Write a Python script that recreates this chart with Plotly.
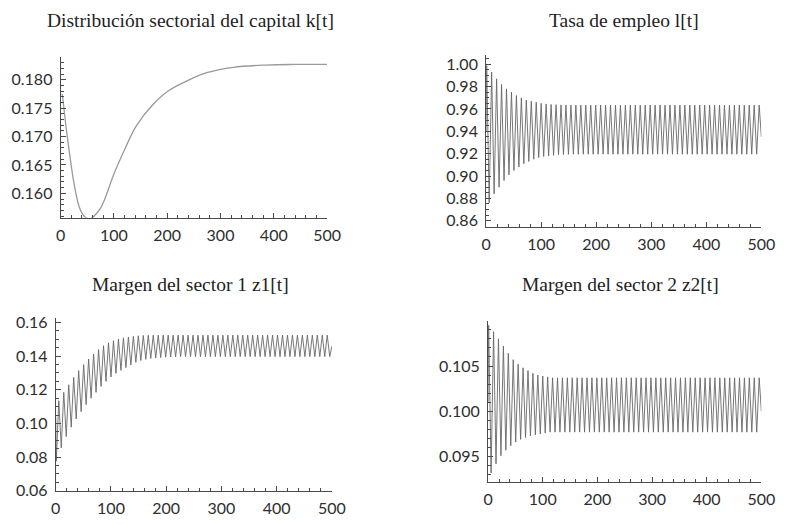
import plotly.graph_objects as go

# ---------------------------------------------------------------------------
# Series data
# ---------------------------------------------------------------------------

# k[t]: smooth path of the sectoral capital share
k_t = [3, 5, 10, 15, 20, 25, 30, 35, 42, 50, 58, 65, 75, 82, 100, 121, 142,
       173, 203, 239, 276, 324, 385, 440, 500]
k_val = [0.1775, 0.1760, 0.1718, 0.1682, 0.1648, 0.1618, 0.1594, 0.1576,
         0.1562, 0.1556, 0.1556, 0.1562, 0.1574, 0.1588, 0.1634, 0.1679,
         0.1719, 0.1756, 0.1781, 0.1799, 0.1813, 0.1822, 0.1826, 0.1827,
         0.1827]

# turning points of the oscillating series (two alternating phases)
t_a = [1, 10, 19, 28, 37, 46, 55, 64, 73, 82,
       91, 100, 109, 118, 127, 136, 145, 154, 163, 172,
       181, 190, 199, 208, 217, 226, 235, 244, 253, 262,
       271, 280, 289, 298, 307, 316, 325, 334, 343, 352,
       361, 370, 379, 388, 397, 406, 415, 424, 433, 442,
       451, 460, 469, 478, 487, 496]
t_b = [5.5, 14.5, 23.5, 32.5, 41.5, 50.5, 59.5, 68.5, 77.5, 86.5,
       95.5, 104.5, 113.5, 122.5, 131.5, 140.5, 149.5, 158.5, 167.5, 176.5,
       185.5, 194.5, 203.5, 212.5, 221.5, 230.5, 239.5, 248.5, 257.5, 266.5,
       275.5, 284.5, 293.5, 302.5, 311.5, 320.5, 329.5, 338.5, 347.5, 356.5,
       365.5, 374.5, 383.5, 392.5, 401.5, 410.5, 419.5, 428.5, 437.5, 446.5,
       455.5, 464.5, 473.5, 482.5, 491.5]

# l[t]: employment rate (highs at t_a, lows at t_b)
l_start, l_end = 0.940, 0.935
l_high = [0.999, 0.993, 0.987, 0.982, 0.978, 0.975, 0.972, 0.970, 0.968, 0.967,
          0.966, 0.965, 0.9645, 0.964, 0.9638, 0.9636, 0.9635, 0.9635, 0.9635, 0.9635,
          0.9635, 0.9635, 0.9635, 0.9635, 0.9635, 0.9635, 0.9635, 0.9635, 0.9635, 0.9635,
          0.9635, 0.9635, 0.9635, 0.9635, 0.9635, 0.9635, 0.9635, 0.9635, 0.9635, 0.9635,
          0.9635, 0.9635, 0.9635, 0.9635, 0.9635, 0.9635, 0.9635, 0.9635, 0.9635, 0.9635,
          0.9635, 0.9635, 0.9635, 0.9635, 0.9635, 0.9635]
l_low = [0.876, 0.884, 0.890, 0.896, 0.901, 0.905, 0.908, 0.911, 0.913, 0.915,
         0.9165, 0.9175, 0.918, 0.9185, 0.919, 0.9192, 0.9194, 0.9195, 0.9195, 0.9195,
         0.9195, 0.9195, 0.9195, 0.9195, 0.9195, 0.9195, 0.9195, 0.9195, 0.9195, 0.9195,
         0.9195, 0.9195, 0.9195, 0.9195, 0.9195, 0.9195, 0.9195, 0.9195, 0.9195, 0.9195,
         0.9195, 0.9195, 0.9195, 0.9195, 0.9195, 0.9195, 0.9195, 0.9195, 0.9195, 0.9195,
         0.9195, 0.9195, 0.9195, 0.9195, 0.9195]

# z1[t]: margin of sector 1 (lows at t_a, highs at t_b)
z1_start, z1_end = 0.104, 0.146
z1_low = [0.0776, 0.0855, 0.0922, 0.0978, 0.1027, 0.1070, 0.1112, 0.1150, 0.1185, 0.1220,
          0.1250, 0.1276, 0.1298, 0.1316, 0.1332, 0.1348, 0.1363, 0.1374, 0.1381, 0.1386,
          0.1389, 0.1392, 0.1394, 0.1395, 0.1396, 0.1397, 0.1397, 0.1397, 0.1397, 0.1397,
          0.1397, 0.1397, 0.1397, 0.1397, 0.1397, 0.1397, 0.1397, 0.1397, 0.1397, 0.1397,
          0.1397, 0.1397, 0.1397, 0.1397, 0.1397, 0.1397, 0.1397, 0.1397, 0.1397, 0.1397,
          0.1397, 0.1397, 0.1397, 0.1397, 0.1397, 0.1397]
z1_high = [0.1135, 0.1185, 0.1230, 0.1274, 0.1314, 0.1350, 0.1383, 0.1413, 0.1439, 0.1462,
           0.1479, 0.1492, 0.1502, 0.1509, 0.1514, 0.1518, 0.1521, 0.1523, 0.1524, 0.1525,
           0.1525, 0.1525, 0.1525, 0.1525, 0.1525, 0.1525, 0.1525, 0.1525, 0.1525, 0.1525,
           0.1525, 0.1525, 0.1525, 0.1525, 0.1525, 0.1525, 0.1525, 0.1525, 0.1525, 0.1525,
           0.1525, 0.1525, 0.1525, 0.1525, 0.1525, 0.1525, 0.1525, 0.1525, 0.1525, 0.1525,
           0.1525, 0.1525, 0.1525, 0.1525, 0.1525]

# z2[t]: margin of sector 2 (highs at t_a, lows at t_b)
z2_start, z2_end = 0.1010, 0.1000
z2_high = [0.1095, 0.1088, 0.1080, 0.1072, 0.1064, 0.1057, 0.1052, 0.1048, 0.1045, 0.1042,
           0.1040, 0.1039, 0.1038, 0.1037, 0.1037, 0.1037, 0.1037, 0.1037, 0.1037, 0.1037,
           0.1037, 0.1037, 0.1037, 0.1037, 0.1037, 0.1037, 0.1037, 0.1037, 0.1037, 0.1037,
           0.1037, 0.1037, 0.1037, 0.1037, 0.1037, 0.1037, 0.1037, 0.1037, 0.1037, 0.1037,
           0.1037, 0.1037, 0.1037, 0.1037, 0.1037, 0.1037, 0.1037, 0.1037, 0.1037, 0.1037,
           0.1037, 0.1037, 0.1037, 0.1037, 0.1037, 0.1037]
z2_low = [0.0932, 0.0942, 0.0951, 0.0957, 0.0962, 0.0966, 0.0969, 0.0971, 0.0973, 0.0974,
          0.0975, 0.0976, 0.0977, 0.0977, 0.0977, 0.0977, 0.0977, 0.0977, 0.0977, 0.0977,
          0.0977, 0.0977, 0.0977, 0.0977, 0.0977, 0.0977, 0.0977, 0.0977, 0.0977, 0.0977,
          0.0977, 0.0977, 0.0977, 0.0977, 0.0977, 0.0977, 0.0977, 0.0977, 0.0977, 0.0977,
          0.0977, 0.0977, 0.0977, 0.0977, 0.0977, 0.0977, 0.0977, 0.0977, 0.0977, 0.0977,
          0.0977, 0.0977, 0.0977, 0.0977, 0.0977]

titles = ["Distribución sectorial del capital k[t]", "Tasa de empleo l[t]",
          "Margen del sector 1 z1[t]", "Margen del sector 2 z2[t]"]
x_ticks = [0, 100, 200, 300, 400, 500]


def zigzag(t0, v0, ta, va, tb, vb, t1, v1):
    """Merge the two phases of turning points into one time-ordered path."""
    pts = [(t0, v0)] + list(zip(ta, va)) + list(zip(tb, vb)) + [(t1, v1)]
    pts.sort(key=lambda p: p[0])
    return [p[0] for p in pts], [p[1] for p in pts]


l_t, l_v = zigzag(0, l_start, t_a, l_high, t_b, l_low, 500, l_end)
z1_t, z1_v = zigzag(0, z1_start, t_a, z1_low, t_b, z1_high, 500, z1_end)
z2_t, z2_v = zigzag(0, z2_start, t_a, z2_high, t_b, z2_low, 500, z2_end)

W, H = 790, 524
LINE = "#686868"
AXIS = "#4a4a4a"
TICK_FONT = dict(family="Lato", size=16, color="#2e2e2e")
TITLE_FONT = dict(family="Liberation Serif", size=19.5, color="#1e1e1e")

fig = go.Figure()
fig.add_trace(go.Scatter(x=k_t, y=k_val, mode="lines", line=dict(color="#9a9a9a", width=1.3, shape="spline"),
                         xaxis="x", yaxis="y", hoverinfo="skip"))
fig.add_trace(go.Scatter(x=l_t, y=l_v, mode="lines", line=dict(color=LINE, width=0.9),
                         xaxis="x2", yaxis="y2", hoverinfo="skip"))
fig.add_trace(go.Scatter(x=z1_t, y=z1_v, mode="lines", line=dict(color=LINE, width=0.9),
                         xaxis="x3", yaxis="y3", hoverinfo="skip"))
fig.add_trace(go.Scatter(x=z2_t, y=z2_v, mode="lines", line=dict(color=LINE, width=0.9),
                         xaxis="x4", yaxis="y4", hoverinfo="skip"))


def px_dom_x(a, b):
    return [a / W, b / W]


def px_dom_y(top, bottom):
    return [1 - bottom / H, 1 - top / H]


def xaxis(domain, anchor):
    return dict(domain=domain, anchor=anchor, range=[0, 500], tickvals=x_ticks,
                ticks="inside", ticklen=5, tickwidth=1, tickcolor=AXIS,
                showline=True, linecolor=AXIS, linewidth=1,
                showgrid=False, zeroline=False, tickfont=TICK_FONT,
                ticklabelstandoff=3,
                minor=dict(ticks="inside", ticklen=3, tickwidth=1, tickcolor=AXIS,
                           tick0=0, dtick=20, showgrid=False))


def yaxis(domain, anchor, rng, vals, fmt, minor_step):
    return dict(domain=domain, anchor=anchor, range=rng, tickvals=vals, tickformat=fmt,
                ticks="inside", ticklen=5, tickwidth=1, tickcolor=AXIS,
                showline=True, linecolor=AXIS, linewidth=1,
                showgrid=False, zeroline=False, tickfont=TICK_FONT,
                ticklabelstandoff=4,
                minor=dict(ticks="inside", ticklen=3, tickwidth=1, tickcolor=AXIS,
                           tick0=0, dtick=minor_step, showgrid=False))


d1x, d1y = px_dom_x(57, 330), px_dom_y(52, 218)
d2x, d2y = px_dom_x(493, 775), px_dom_y(50, 227)
d3x, d3y = px_dom_x(52, 335), px_dom_y(321, 499)
d4x, d4y = px_dom_x(495, 775), px_dom_y(324, 490)

fig.update_layout(
    width=W, height=H, margin=dict(l=0, r=0, t=0, b=0),
    paper_bgcolor="white", plot_bgcolor="white", showlegend=False,
    xaxis=xaxis(d1x, "y"),
    yaxis=yaxis(d1y, "x", [0.1557, 0.1841], [0.160, 0.165, 0.170, 0.175, 0.180], ".3f", 0.001),
    xaxis2=xaxis(d2x, "y2"),
    yaxis2=yaxis(d2y, "x2", [0.8548, 1.0087],
                 [0.86, 0.88, 0.90, 0.92, 0.94, 0.96, 0.98, 1.00], ".2f", 0.005),
    xaxis3=xaxis(d3x, "y3"),
    yaxis3=yaxis(d3y, "x3", [0.06, 0.1628], [0.06, 0.08, 0.10, 0.12, 0.14, 0.16], ".2f", 0.005),
    xaxis4=xaxis(d4x, "y4"),
    yaxis4=yaxis(d4y, "x4", [0.0922, 0.1100], [0.095, 0.100, 0.105], ".3f", 0.001),
)

title_pos = [(190, 15), (634, 15), (190, 287), (631, 287)]
for text, (cx, cy) in zip(titles, title_pos):
    fig.add_annotation(text=text, x=cx / W, y=1 - cy / H, xref="paper", yref="paper",
                       xanchor="center", yanchor="middle", showarrow=False, font=TITLE_FONT)

fig.write_html("out.html")
